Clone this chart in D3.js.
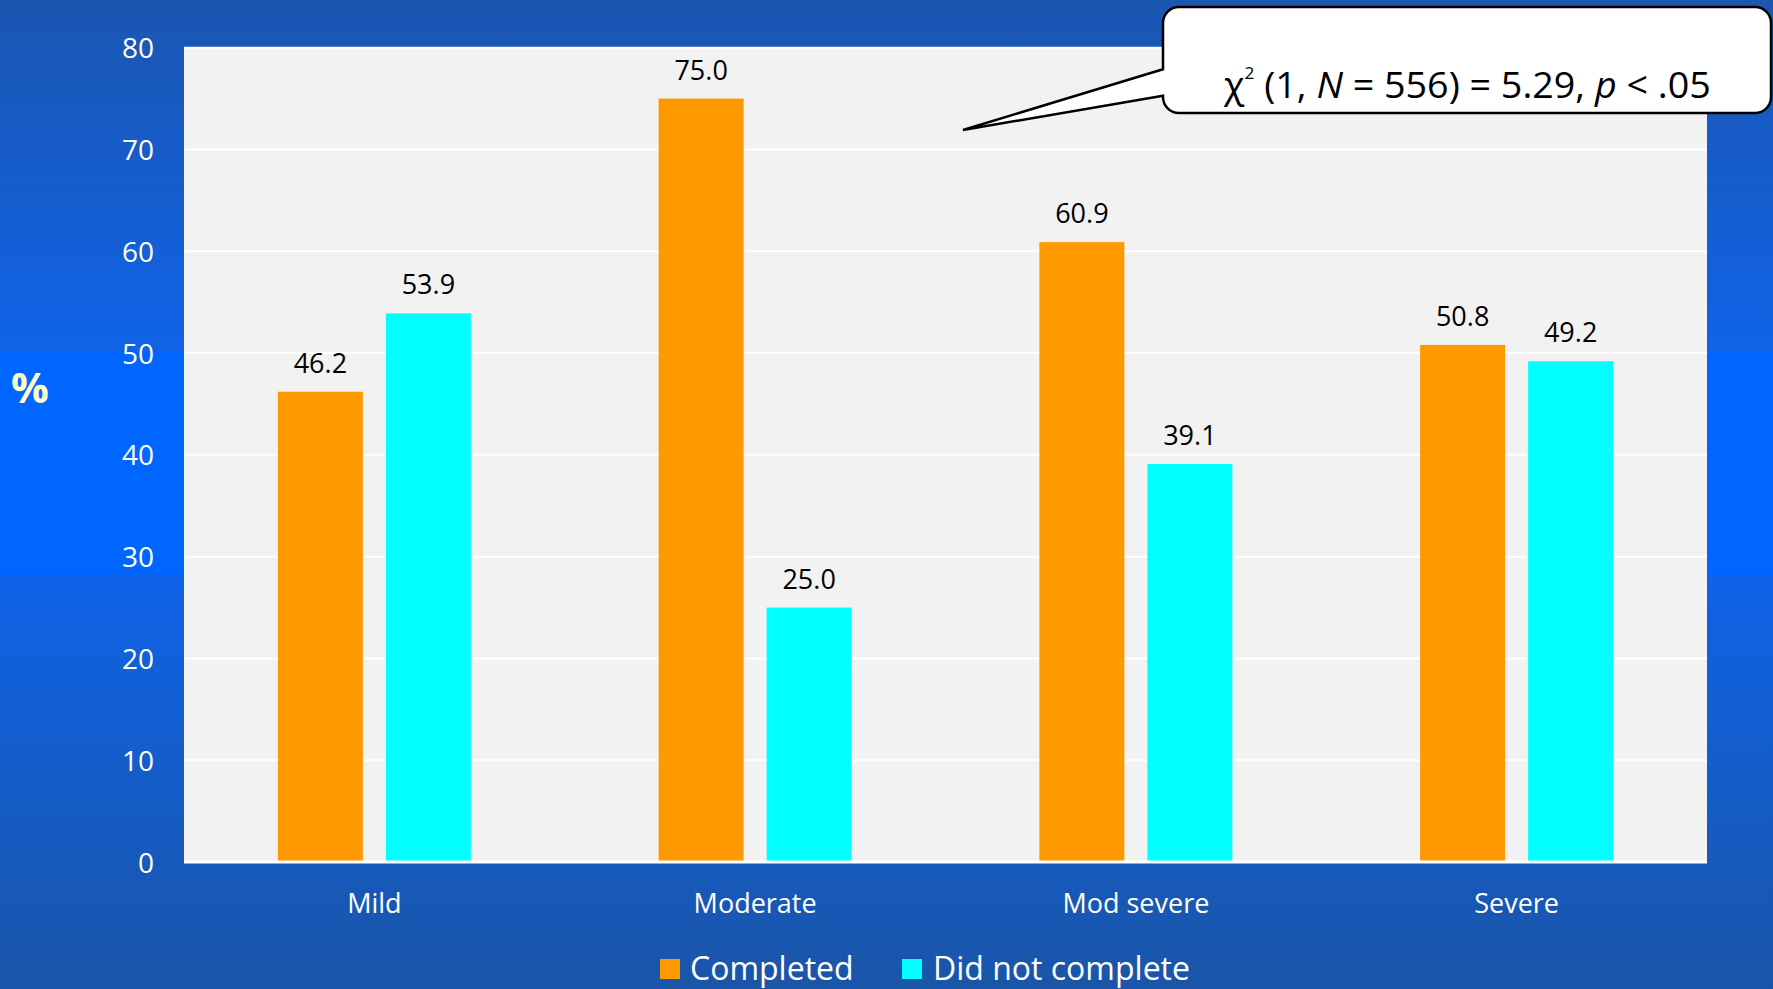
<!DOCTYPE html>
<html>
<head>
<meta charset="utf-8">
<script src="https://cdn.jsdelivr.net/npm/d3@7"></script>
<style>
  html, body { margin: 0; padding: 0; overflow: hidden; }
  svg { display: block; }
</style>
</head>
<body>
<script>
const categories = ["Mild", "Moderate", "Mod severe", "Severe"];
const seriesNames = ["Completed", "Did not complete"];
const completed = [46.2, 75.0, 60.9, 50.8];
const didNotComplete = [53.9, 25.0, 39.1, 49.2];
const yTicks = [0, 10, 20, 30, 40, 50, 60, 70, 80];
const colors = ["#ff9900", "#00ffff"];

const W = 1773, H = 989;
const plot = {left: 184, right: 1707, top: 47.7, bottom: 862};
const FONT = "'Open Sans', 'Noto Sans', sans-serif";

const svg = d3.select("body").append("svg").attr("width", W).attr("height", H);

// background gradient
const defs = svg.append("defs");
const grad = defs.append("linearGradient").attr("id", "bg").attr("x1", 0).attr("y1", 0).attr("x2", 0).attr("y2", 1);
[[0, "#1b56b0"], [0.355, "#1063e8"], [0.356, "#0066ff"], [0.58, "#0066ff"], [0.582, "#0f63e8"], [1, "#1a55a8"]]
  .forEach(([o, c]) => grad.append("stop").attr("offset", o).attr("stop-color", c));
svg.append("rect").attr("width", W).attr("height", H).attr("fill", "url(#bg)");

// plot area
svg.append("rect").attr("x", plot.left).attr("y", plot.top)
  .attr("width", plot.right - plot.left).attr("height", plot.bottom - plot.top)
  .attr("fill", "#f2f2f2");

const y = d3.scaleLinear().domain([0, 80]).range([plot.bottom, plot.top]);
const x0 = d3.scaleBand().domain(categories).range([plot.left, plot.right]).padding(0);
const x1 = d3.scaleBand().domain(seriesNames).range([0, x0.bandwidth()]).paddingInner(0.213).paddingOuter(0.869);

// gridlines
svg.append("g").selectAll("line").data(yTicks.filter(t => t > 0)).join("line")
  .attr("x1", plot.left).attr("x2", plot.right)
  .attr("y1", d => y(d)).attr("y2", d => y(d))
  .attr("stroke", "#ffffff").attr("stroke-width", 2);

// y axis labels
const yAxis = d3.axisLeft(y).tickValues(yTicks).tickSize(0).tickPadding(0);
const gy = svg.append("g").attr("transform", `translate(154,0)`).call(yAxis);
gy.select(".domain").remove();
gy.selectAll("text").attr("fill", "#ffffff").style("font-family", FONT).style("font-size", "28px")
  .attr("dy", "0.36em").attr("x", 0);

// x axis labels
const xAxis = d3.axisBottom(x0).tickSize(0).tickPadding(0);
const gx = svg.append("g").attr("transform", `translate(0,${plot.bottom})`).call(xAxis);
gx.select(".domain").remove();
gx.selectAll("text").attr("fill", "#ffffff").style("font-family", FONT).style("font-size", "27px")
  .attr("y", 51).attr("dy", 0);

// bars
const data = categories.map((c, i) => ({cat: c, vals: [
  {s: seriesNames[0], v: completed[i], c: colors[0]},
  {s: seriesNames[1], v: didNotComplete[i], c: colors[1]}]}));

const groups = svg.append("g").selectAll("g").data(data).join("g")
  .attr("transform", d => `translate(${x0(d.cat)},0)`);
groups.selectAll("rect").data(d => d.vals).join("rect")
  .attr("x", d => x1(d.s)).attr("width", x1.bandwidth())
  .attr("y", d => y(d.v)).attr("height", d => y(0) - y(d.v))
  .attr("fill", d => d.c);
groups.selectAll("text").data(d => d.vals).join("text")
  .attr("x", d => x1(d.s) + x1.bandwidth() / 2)
  .attr("y", d => y(d.v) - 19)
  .attr("text-anchor", "middle")
  .style("font-family", FONT).style("font-size", "27px").attr("fill", "#000")
  .text(d => d.v.toFixed(1));

// zero axis line
svg.append("line").attr("x1", plot.left).attr("x2", plot.right)
  .attr("y1", y(0)).attr("y2", y(0)).attr("stroke", "#ffffff").attr("stroke-width", 3);

// y axis title
svg.append("text").attr("x", 30).attr("y", 403).attr("text-anchor", "middle")
  .style("font-family", FONT).style("font-size", "42px").style("font-weight", "bold")
  .attr("fill", "#ffffcc").text("%");

// legend
const legendItems = [
  {name: seriesNames[0], color: colors[0], sx: 660, tx: 690},
  {name: seriesNames[1], color: colors[1], sx: 902, tx: 933}
];
const lg = svg.append("g");
legendItems.forEach(it => {
  lg.append("rect").attr("x", it.sx).attr("y", 959).attr("width", 20).attr("height", 20).attr("fill", it.color);
  lg.append("text").attr("x", it.tx).attr("y", 980)
    .style("font-family", FONT).style("font-size", "32px").attr("fill", "#ffffff").text(it.name);
});

// callout
const bx0 = 1163, by0 = 7, bx1 = 1771, by1 = 113, r = 16;
const tip = [963, 130];
const p = d3.path();
p.moveTo(bx0 + r, by0);
p.lineTo(bx1 - r, by0);
p.arcTo(bx1, by0, bx1, by0 + r, r);
p.lineTo(bx1, by1 - r);
p.arcTo(bx1, by1, bx1 - r, by1, r);
p.lineTo(bx0 + r, by1);
p.arcTo(bx0, by1, bx0, by1 - r, r);
p.lineTo(bx0, 95.7);
p.lineTo(tip[0], tip[1]);
p.lineTo(bx0, 69.3);
p.lineTo(bx0, by0 + r);
p.arcTo(bx0, by0, bx0 + r, by0, r);
p.closePath();
svg.append("path").attr("d", p.toString()).attr("fill", "#ffffff")
  .attr("stroke", "#000000").attr("stroke-width", 2.5).attr("stroke-linejoin", "miter");

const ct = svg.append("text").attr("x", 0).attr("y", 0)
  .style("font-family", FONT).style("font-size", "37px").attr("fill", "#000");
ct.append("tspan").text("χ");
ct.append("tspan").attr("dy", -19).style("font-size", "17px").text("2");
ct.append("tspan").attr("dy", 19).text("\u00a0(1, ");
ct.append("tspan").style("font-style", "italic").text("N");
ct.append("tspan").text(" = 556) = 5.29, ");
ct.append("tspan").style("font-style", "italic").text("p");
ct.append("tspan").text(" < .05");
const bb = ct.node().getBBox();
const targetW = 488;
const sx = targetW / bb.width;
ct.attr("transform", `translate(${1223 - bb.x * sx},98) scale(${sx},1)`);
</script>
</body>
</html>
